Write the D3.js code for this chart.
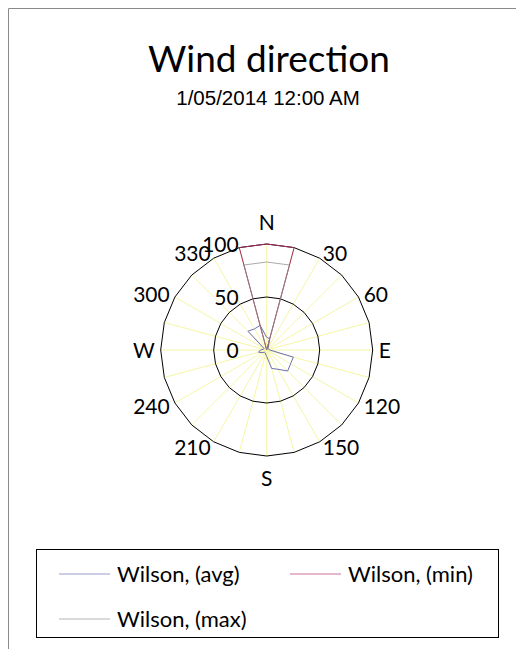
<!DOCTYPE html>
<html>
<head>
<meta charset="utf-8">
<script src="https://cdn.jsdelivr.net/npm/d3@7"></script>
<style>
  body { margin: 0; background: #fff; }
  svg { display: block; }
</style>
</head>
<body>
<svg id="chart"></svg>
<script>
// Chart dimensions
const width = 516;
const height = 649;

// Data (directions in degrees, 0 = North)
const directions = [0, 15, 30, 45, 60, 75, 90, 105, 120, 135, 150, 165,
                    180, 195, 210, 225, 240, 255, 270, 285, 300, 315, 330, 345];
const dirLabels = ["N", "", "30", "", "60", "", "E", "", "120", "", "150", "",
                   "S", "", "210", "", "240", "", "W", "", "300", "", "330", ""];
const avgValues = [12, 11, 3, 2, 2, 2, 3, 26, 26, 28, 21, 18,
                   6, 4, 3, 3, 5, 8, 6, 3, 3, 25, 23, 24];
const minValues = [100, 100, 0, 0, 0, 0, 0, 0, 0, 0, 0, 0,
                   0, 0, 0, 0, 0, 0, 0, 0, 0, 0, 0, 100];
const maxValues = [83, 83, 0, 0, 0, 0, 0, 0, 0, 0, 0, 0,
                   0, 0, 0, 0, 0, 0, 0, 0, 0, 0, 0, 83];
const radialTicks = [0, 50, 100];
const seriesNames = ["Wilson, (avg)", "Wilson, (min)", "Wilson, (max)"];
const seriesColors = ["#6e6eb4", "#a2285e", "#8e8e8e"];
const legendColors = ["#9a9acc", "#c8709a", "#b4b4b4"];

const svg = d3.select("#chart")
  .attr("width", width)
  .attr("height", height);

// Outer chart frame (only top and left are visible)
svg.append("path")
  .attr("d", `M8.5,${height} V8.5 H${width}`)
  .attr("fill", "none")
  .attr("stroke", "#8a8a8a");

// Titles
svg.append("text")
  .attr("x", 269).attr("y", 72)
  .attr("text-anchor", "middle")
  .style("font-family", "Lato, sans-serif")
  .style("font-size", "37px")
  .text("Wind direction");

svg.append("text")
  .attr("x", 268).attr("y", 105)
  .attr("text-anchor", "middle")
  .style("font-family", "'Liberation Sans', Arial, sans-serif")
  .style("font-size", "20.5px")
  .text("1/05/2014 12:00 AM");

// Radar setup
const cx = 266.7, cy = 350, R = 106;
const rScale = d3.scaleLinear().domain([0, 100]).range([0, R]);
const angle = d => d * Math.PI / 180;

const g = svg.append("g").attr("transform", `translate(${cx},${cy})`);

// Spokes
g.selectAll(".spoke")
  .data(directions)
  .enter()
  .append("line")
  .attr("class", "spoke")
  .attr("x1", 0).attr("y1", 0)
  .attr("x2", d => rScale(100) * Math.sin(angle(d)))
  .attr("y2", d => -rScale(100) * Math.cos(angle(d)))
  .attr("stroke", "#f6f6a6")
  .attr("stroke-width", 1);

// Grid rings (polygons)
const ringLine = d3.lineRadial()
  .angle(d => angle(d[0]))
  .radius(d => rScale(d[1]))
  .curve(d3.curveLinearClosed);

g.selectAll(".ring")
  .data(radialTicks.filter(t => t > 0))
  .enter()
  .append("path")
  .attr("class", "ring")
  .attr("d", t => ringLine(directions.map(d => [d, t])))
  .attr("fill", "none")
  .attr("stroke", "#000")
  .attr("stroke-width", 1);

// Series
const series = [avgValues, minValues, maxValues];
series.forEach((vals, i) => {
  g.append("path")
    .attr("d", ringLine(directions.map((d, j) => [d, vals[j]])))
    .attr("fill", "none")
    .attr("stroke", seriesColors[i])
    .attr("stroke-opacity", i === 2 ? 0.75 : 1)
    .attr("stroke-width", 1);
});

// Radial value labels
g.selectAll(".rlabel")
  .data(radialTicks)
  .enter()
  .append("text")
  .attr("x", -28)
  .attr("y", t => -rScale(t))
  .attr("dy", "0.36em")
  .attr("text-anchor", "end")
  .style("font-family", "Lato, sans-serif")
  .style("font-size", "21px")
  .text(t => t);

// Direction labels
const labelR = R + 6;
g.selectAll(".dlabel")
  .data(directions.filter((d, i) => dirLabels[i] !== ""))
  .enter()
  .append("text")
  .attr("x", d => labelR * Math.sin(angle(d)))
  .attr("y", d => {
    const c = Math.cos(angle(d)), s = Math.sin(angle(d));
    const base = -labelR * c;
    if (Math.abs(s) < 0.1) return base + (c > 0 ? -16 : 16);
    return base;
  })
  .attr("dy", "0.36em")
  .attr("text-anchor", d => {
    const s = Math.sin(angle(d));
    return Math.abs(s) < 0.1 ? "middle" : (s > 0 ? "start" : "end");
  })
  .style("font-family", "Lato, sans-serif")
  .style("font-size", "21px")
  .text(d => dirLabels[directions.indexOf(d)]);

// Legend
const legend = svg.append("g");
legend.append("rect")
  .attr("x", 36.5).attr("y", 549.5)
  .attr("width", 462).attr("height", 88)
  .attr("fill", "#fff")
  .attr("stroke", "#000");

const legendPos = [[59, 574], [290, 574], [59, 619]];
seriesNames.forEach((name, i) => {
  const [lx, ly] = legendPos[i];
  legend.append("line")
    .attr("x1", lx).attr("x2", lx + 51)
    .attr("y1", ly).attr("y2", ly)
    .attr("stroke", legendColors[i]);
  legend.append("text")
    .attr("x", lx + 58).attr("y", ly)
    .attr("dy", "0.36em")
    .style("font-family", "Lato, sans-serif")
    .style("font-size", "22px")
    .text(name);
});
</script>
</body>
</html>
